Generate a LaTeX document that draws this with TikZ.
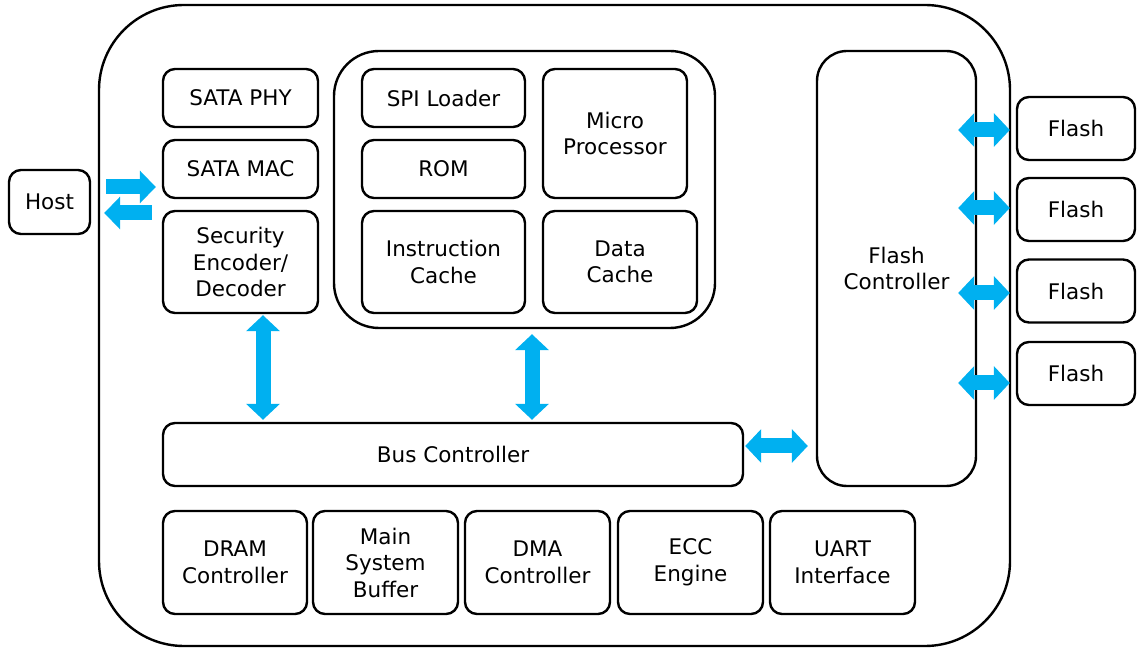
\documentclass[tikz,border=0pt]{standalone}
\usepackage{fontspec}
\setmainfont{DejaVu Sans}
\usetikzlibrary{arrows.meta,calc}
\definecolor{linkblue}{HTML}{00B0F0}

\begin{document}
\begin{tikzpicture}[x=1pt, y=1pt,
        blk/.style={draw, line width=2.4pt, rounded corners=12pt, align=center, inner sep=0pt,
            font=\fontsize{21.5}{26.5}\selectfont},
        frame/.style={draw, line width=2.4pt, inner sep=0pt},
        link/.style={draw=linkblue, line width=15pt,
            {Triangle[length=16pt,width=33pt]}-{Triangle[length=16pt,width=33pt]}},
        onelink/.style={draw=linkblue, line width=15pt, -{Triangle[length=16pt,width=32pt]}}]
        \useasboundingbox (0,0) rectangle (1137,648);
        % outer frame and processor group
        \node[frame, rounded corners=85pt, minimum width=911pt, minimum height=641pt] (ssd) at (554.5,322.5) {};
        \node[frame, rounded corners=45pt, minimum width=381pt, minimum height=277pt] (cpu) at (524.5,458.5) {};
        \node[blk, minimum width=81pt, minimum height=64pt] (host) at (49.5,446) {Host};
        % host side
        \node[blk, minimum width=155pt, minimum height=58pt] (phy) at (240.5,550) {SATA PHY};
        \node[blk, minimum width=155pt, minimum height=58pt] (mac) at (240.5,479) {SATA MAC};
        \node[blk, minimum width=155pt, minimum height=102pt] (sec) at (240.5,386) {Security\\Encoder/\\Decoder};
        % processor
        \node[blk, minimum width=163pt, minimum height=58pt] (spi) at (443.5,550) {SPI Loader};
        \node[blk, minimum width=163pt, minimum height=58pt] (rom) at (443.5,479) {ROM};
        \node[blk, minimum width=163pt, minimum height=102pt] (icache) at (443.5,386) {Instruction\\Cache};
        \node[blk, minimum width=144pt, minimum height=129pt] (mproc) at (615,514.5) {Micro\\Processor};
        \node[blk, minimum width=154pt, minimum height=102pt] (dcache) at (620,386) {Data\\Cache};
        % flash side
        \node[blk, rounded corners=30pt, minimum width=159pt, minimum height=435pt] (flashctl) at (896.5,379.5) {Flash\\Controller};
        \foreach \i/\yy/\dy in {1/519.5/-1.5, 2/438.5/1.5, 3/357/-2, 4/274.5/-9.5} {
            \node[blk, minimum width=118pt, minimum height=63pt] (flash\i) at (1076,\yy) {Flash};
            \draw[link] ($(flashctl.east |- flash\i.west)+(-19,\dy)$) -- ($(flash\i.west)+(-6,\dy)$);
        }
        % bus and peripherals
        \node[blk, minimum width=580pt, minimum height=63pt] (bus) at (453,193.5) {Bus Controller};
        \node[blk, minimum width=144pt, minimum height=103pt] (dram) at (235,85.5) {DRAM\\Controller};
        \node[blk, minimum width=145pt, minimum height=103pt] (buffer) at (385.5,85.5) {Main\\System\\Buffer};
        \node[blk, minimum width=145pt, minimum height=103pt] (dma) at (537.5,85.5) {DMA\\Controller};
        \node[blk, minimum width=145pt, minimum height=103pt] (ecc) at (690.5,85.5) {ECC\\Engine};
        \node[blk, minimum width=145pt, minimum height=103pt] (uart) at (842.5,85.5) {UART\\Interface};
        % links
        \draw[onelink] ($(host.east)+(15,15)$) -- ($(mac.west |- host.east)+(-6,15)$);
        \draw[onelink] ($(mac.west |- host.east)+(-10,-11)$) -- ($(host.east)+(13,-11)$);
        \draw[link] ($(sec.south)+(22.5,-1)$) -- ($(sec.south |- bus.north)+(22.5,2)$);
        \draw[link] ($(cpu.south)+(7.5,-5)$) -- ($(cpu.south |- bus.north)+(7.5,2)$);
        \draw[link] ($(bus.east)+(1,8.5)$) -- ($(bus.east -| flashctl.west)+(-8,8.5)$);
    \end{tikzpicture}
\end{document}
